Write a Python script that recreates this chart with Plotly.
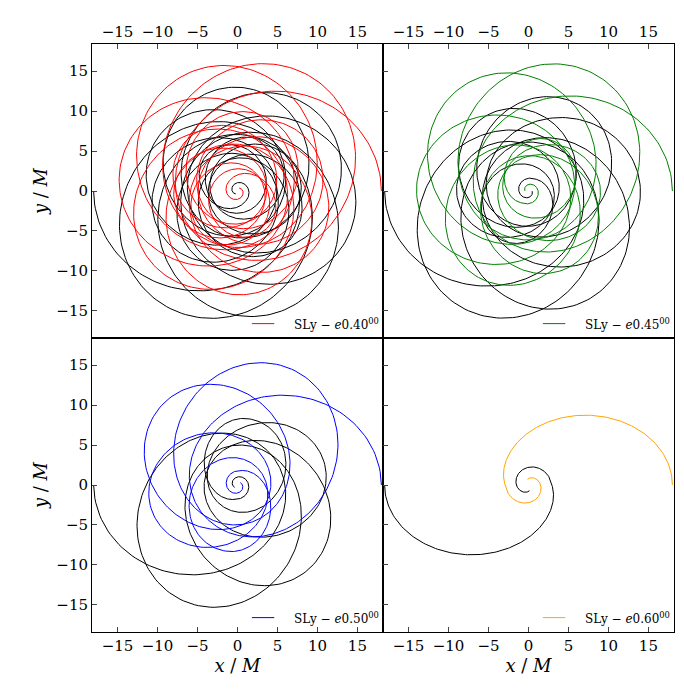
import numpy as np
import plotly.graph_objects as go
from plotly.subplots import make_subplots

# orbit data: apoapsis radii (M) per orbit, eccentricity,
# precession per orbit (deg) and the final curl after the plunge (deg)
labels = ["0.40", "0.45", "0.50", "0.60"]
colors = ["red", "green", "blue", "orange"]
apoapses = [
    [18.0, 17.0, 16.0, 15.0, 14.0, 13.0, 12.0, 11.0, 10.0, 9.0, 8.0, 7.0, 6.0],
    [18.0, 16.8, 15.5, 14.0, 12.5, 10.8, 9.0, 7.0],
    [18.0, 16.0, 13.8, 11.2, 8.4],
    [18.0],
]
eccs = [0.40, 0.45, 0.50, 0.60]
precession = [55, 60, 65, 0]
curl = [300, 300, 320, 280]


def orbit(apos, e, prec, curl_deg):
    xs, ys = [], []
    phi0 = 0.0
    for k in range(len(apos) - 1):
        a0, a1 = apos[k], apos[k + 1]
        nu = np.linspace(np.pi, 3 * np.pi, 240)
        s = (nu - np.pi) / (2 * np.pi)
        apo = a0 + (a1 - a0) * s
        p = apo * (1 - e)
        r = p / (1 + e * np.cos(nu))
        dphi = 2 * np.pi + np.radians(prec)
        phi = phi0 + s * dphi
        xs.append(r * np.cos(phi))
        ys.append(r * np.sin(phi))
        phi0 += dphi
    # plunge: half orbit down to periapsis, then a curl into the centre
    a = apos[-1]
    s = np.linspace(0, 1, 200)
    nu = np.pi + s * np.pi
    r = a * (1 - e) / (1 + e * np.cos(nu)) * (1 - 0.35 * s ** 2)
    phi = phi0 + s * np.pi
    xs.append(r * np.cos(phi))
    ys.append(r * np.sin(phi))
    r_end, phi_end = r[-1], phi[-1]
    t = np.linspace(0, 1, 150)
    xs.append((r_end * (1 - 0.75 * t)) * np.cos(phi_end + t * np.radians(curl_deg)))
    ys.append((r_end * (1 - 0.75 * t)) * np.sin(phi_end + t * np.radians(curl_deg)))
    return np.concatenate(xs), np.concatenate(ys)


fig = make_subplots(rows=2, cols=2, horizontal_spacing=0, vertical_spacing=0)
font = "DejaVu Serif"
for i in range(4):
    row, col = i // 2 + 1, i % 2 + 1
    x, y = orbit(apoapses[i], eccs[i], precession[i], curl[i])
    fig.add_trace(go.Scatter(x=-x, y=-y, mode="lines", line=dict(color="black", width=1),
                             showlegend=False), row=row, col=col)
    fig.add_trace(go.Scatter(x=x, y=y, mode="lines", line=dict(color=colors[i], width=1),
                             showlegend=False), row=row, col=col)
    n = i + 1
    xref = "x" if n == 1 else "x%d" % n
    yref = "y" if n == 1 else "y%d" % n
    fig.add_shape(type="line", x0=1.8, x1=4.6, y0=-16.6, y1=-16.6, xref=xref, yref=yref,
                  line=dict(color=colors[i], width=1))
    fig.add_annotation(x=18.0, y=-16.6, xref=xref, yref=yref, xanchor="right", showarrow=False,
                       text="SLy − <i>e</i>%s<sup>00</sup>" % labels[i],
                       font=dict(family=font, size=12, color="black"))

ticks = [-15, -10, -5, 0, 5, 10, 15]
for i in range(4):
    row, col = i // 2 + 1, i % 2 + 1
    fig.update_xaxes(range=[-18.2, 18.2], tickvals=ticks, ticks="inside", ticklen=5,
                     showline=True, mirror=True, linecolor="black", linewidth=1,
                     showgrid=False, zeroline=False, showticklabels=True,
                     side="top" if row == 1 else "bottom",
                     title_text="<i>x</i> / <i>M</i>" if row == 2 else None,
                     title_standoff=2, row=row, col=col)
    fig.update_yaxes(range=[-18.4, 18.4], tickvals=ticks, ticks="inside", ticklen=5,
                     showline=True, mirror=True, linecolor="black", linewidth=1,
                     showgrid=False, zeroline=False, showticklabels=(col == 1),
                     title_text="<i>y</i> / <i>M</i>" if col == 1 else None,
                     title_standoff=4, row=row, col=col)

fig.update_layout(width=670, height=680, plot_bgcolor="white", paper_bgcolor="white",
                  margin=dict(l=84, r=4, t=36, b=56),
                  font=dict(family=font, size=15, color="black"))
fig.write_html("out.html")
